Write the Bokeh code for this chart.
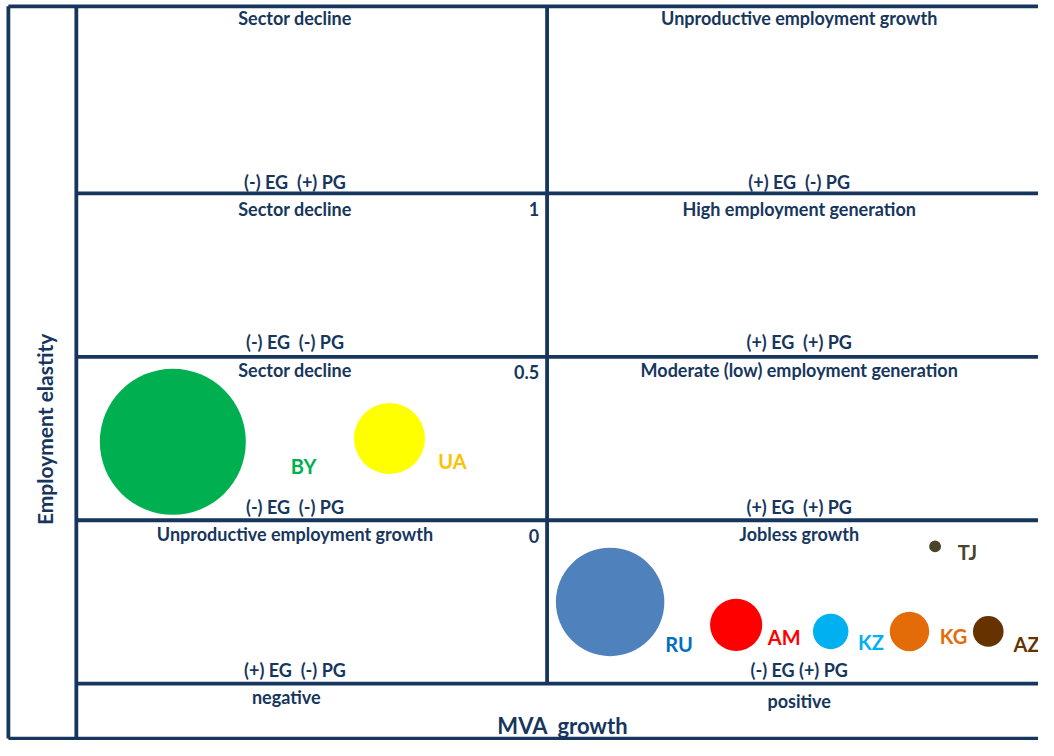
import math
from bokeh.plotting import figure
from bokeh.models import Range1d
from bokeh.core.properties import value
from bokeh.embed import file_html
from bokeh.resources import INLINE

# ---------------- data ----------------
countries = ["BY", "UA", "RU", "AM", "KZ", "KG", "AZ", "TJ"]
mva_growth = [-9.5, -4.0, 1.6, 4.8, 7.2, 9.2, 11.2, 9.85]          # x (schematic)
emp_elasticity = [0.24, 0.25, -0.25, -0.32, -0.34, -0.34, -0.34, -0.08]  # y
bubble_weight = [100.0, 23.7, 55.2, 12.8, 5.9, 7.3, 4.4, 0.66]
bubble_colors = ["#00B050", "#FFFF00", "#4F81BD", "#FF0000", "#00B0F0", "#E36C09", "#663300", "#4A452A"]
label_colors = ["#00B050", "#FFC000", "#0070C0", "#FF0000", "#00B0F0", "#E36C09", "#663300", "#4A452A"]
label_x = [-6.18, -2.4, 3.35, 6.02, 8.22, 10.32, 12.17, 10.67]
label_y = [0.165, 0.18, -0.377, -0.356, -0.371, -0.353, -0.38, -0.096]

y_ticks = [1, 0.5, 0]
y_tick_labels = ["1", "0.5", "0"]

S = " \u00a0"
quad_titles = ["Sector decline", "Unproductive employment growth",
               "Sector decline", "High employment generation",
               "Sector decline", "Moderate (low) employment generation",
               "Unproductive employment growth", "Jobless growth"]
quad_signs = ["(-) EG" + S + "(+) PG", "(+) EG" + S + "(-) PG",
              "(-) EG" + S + "(-) PG", "(+) EG" + S + "(+) PG",
              "(-) EG" + S + "(-) PG", "(+) EG" + S + "(+) PG",
              "(+) EG" + S + "(-) PG", "(-) EG (+) PG"]
x_cat_labels = ["negative", "positive"]
x_title = "MVA" + S + "growth"
y_title = "Employment elastity"

# ---------------- layout constants ----------------
NAVY = "#17365D"
FONT = value("Lato")
W, H = 1038, 740
X0, X1 = -13.875, 12.475
Y0, Y1 = -0.6737, 1.5898

p = figure(width=W, height=H, output_backend="svg", toolbar_location=None,
           x_range=Range1d(X0, X1), y_range=Range1d(Y0, Y1),
           x_axis_location=None, y_axis_location=None, min_border=0)
p.outline_line_color = None
p.xgrid.visible = False
p.ygrid.visible = False
p.background_fill_color = "white"
p.border_fill_color = "white"

frame_left = -13.675
frame_top = 1.572
frame_bottom = -0.6677
inner_left = -11.95
grid_bottom = -0.5

# frame and grid lines
x0s = [frame_left, frame_left, frame_left, inner_left, 0]
y0s = [frame_top, frame_bottom, frame_top, frame_top, frame_top]
x1s = [X1, X1, frame_left, inner_left, 0]
y1s = [frame_top, frame_bottom, frame_bottom, frame_bottom, grid_bottom]
for yv in [1, 0.5, 0, -0.5]:
    x0s.append(inner_left); y0s.append(yv); x1s.append(X1); y1s.append(yv)
p.segment(x0s, y0s, x1s, y1s, line_color=NAVY, line_width=3.8)

# quadrant texts
col_x = [-6.4, 6.4]
title_y = [1.536, 0.952, 0.461, -0.042]
sign_y = [1.036, 0.545, 0.042, -0.458]
tx, ty, tt = [], [], []
for r in range(4):
    for c in range(2):
        tx.append(col_x[c]); ty.append(title_y[r]); tt.append(quad_titles[2 * r + c])
        tx.append(col_x[c]); ty.append(sign_y[r]); tt.append(quad_signs[2 * r + c])
p.text(tx, ty, tt, text_align="center", text_baseline="middle", text_font=FONT,
       text_font_style="bold", text_font_size="18px", text_color=NAVY)

# y value labels
p.text([-0.2] * 3, [v - 0.048 for v in y_ticks], y_tick_labels, text_align="right",
       text_baseline="middle", text_font=FONT, text_font_style="bold",
       text_font_size="18px", text_color=NAVY)

# x category labels
p.text([-6.62, 6.4], [-0.542, -0.554], x_cat_labels, text_align="center",
       text_baseline="middle", text_font=FONT, text_font_style="bold",
       text_font_size="18px", text_color=NAVY)

# axis titles
p.text([0.4], [-0.629], [x_title], text_align="center", text_baseline="middle",
       text_font=FONT, text_font_style="bold", text_font_size="22px", text_color=NAVY)
p.text([-12.75], [0.278], [y_title], angle=math.pi / 2,
       text_align="center", text_baseline="middle", text_font=FONT,
       text_font_style="bold", text_font_size="21px", text_color=NAVY)

# bubbles
sizes = [146 * math.sqrt(w / 100.0) for w in bubble_weight]
p.scatter(mva_growth, emp_elasticity, size=sizes, fill_color=bubble_colors,
          line_color=None, marker="circle")

# bubble labels
p.text(label_x, label_y, countries, text_align="center", text_baseline="middle",
       text_font=FONT, text_font_style="bold", text_font_size="20px",
       text_color=label_colors)

open("out.html", "w").write(file_html(p, INLINE))
